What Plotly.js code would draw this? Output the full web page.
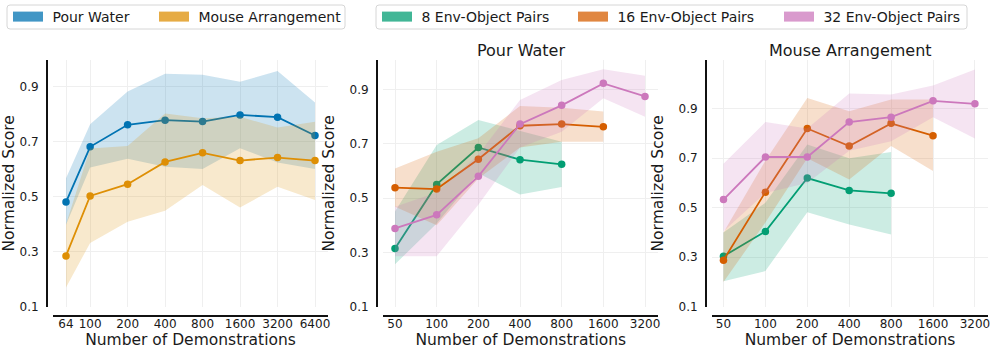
<!DOCTYPE html>
<html>
<head>
<meta charset="utf-8">
<script src="https://cdn.plot.ly/plotly-3.0.1.min.js"></script>
<style>
  html, body { margin: 0; padding: 0; background: #fff; }
  #plot { width: 996px; height: 353px; }
</style>
</head>
<body>
<div id="plot"></div>
<script>
// ---- data ----
let demosLeft = [64, 100, 200, 400, 800, 1600, 3200, 6400];
let demosPairs = [50, 100, 200, 400, 800, 1600, 3200];

// left panel: task comparison
let pourMean  = [0.481, 0.682, 0.762, 0.779, 0.774, 0.798, 0.790, 0.723];
let pourUpper = [0.568, 0.764, 0.883, 0.948, 0.944, 0.919, 0.958, 0.843];
let pourLower = [0.398, 0.607, 0.639, 0.609, 0.601, 0.677, 0.625, 0.601];

let mouseMean  = [0.285, 0.503, 0.546, 0.627, 0.660, 0.632, 0.643, 0.632];
let mouseUpper = [0.400, 0.676, 0.685, 0.803, 0.786, 0.791, 0.752, 0.773];
let mouseLower = [0.170, 0.332, 0.409, 0.449, 0.543, 0.461, 0.537, 0.488];

// middle panel: Pour Water, by number of env-object pairs
let pw8Mean   = [0.314, 0.550, 0.686, 0.641, 0.624];
let pw8Upper  = [0.450, 0.695, 0.787, 0.748, 0.707];
let pw8Lower  = [0.256, 0.406, 0.591, 0.513, 0.541];
let pw16Mean  = [0.538, 0.533, 0.643, 0.766, 0.772, 0.762];
let pw16Upper = [0.609, 0.670, 0.720, 0.839, 0.832, 0.818];
let pw16Lower = [0.468, 0.400, 0.572, 0.686, 0.707, 0.707];
let pw32Mean  = [0.388, 0.438, 0.580, 0.772, 0.841, 0.922, 0.874];
let pw32Upper = [0.468, 0.520, 0.660, 0.861, 0.934, 0.974, 0.950];
let pw32Lower = [0.286, 0.286, 0.475, 0.686, 0.744, 0.867, 0.799];

// right panel: Mouse Arrangement
let ma8Mean   = [0.304, 0.404, 0.620, 0.570, 0.558];
let ma8Upper  = [0.400, 0.520, 0.756, 0.700, 0.725];
let ma8Lower  = [0.203, 0.244, 0.482, 0.432, 0.392];
let ma16Mean  = [0.288, 0.563, 0.820, 0.749, 0.841, 0.791];
let ma16Upper = [0.400, 0.690, 0.943, 0.890, 0.937, 0.937];
let ma16Lower = [0.200, 0.440, 0.700, 0.614, 0.749, 0.648];
let ma32Mean  = [0.533, 0.705, 0.705, 0.846, 0.866, 0.932, 0.920];
let ma32Upper = [0.678, 0.846, 0.820, 0.962, 0.958, 0.994, 1.059];
let ma32Lower = [0.405, 0.560, 0.600, 0.730, 0.769, 0.866, 0.780];

let taskNames = ['Pour Water', 'Mouse Arrangement'];
let pairNames = ['8 Env-Object Pairs', '16 Env-Object Pairs', '32 Env-Object Pairs'];
let yTicks = [0.1, 0.3, 0.5, 0.7, 0.9];

// colorblind palette
let blue = [1, 115, 178];
let gold = [222, 143, 5];
let green = [2, 158, 115];
let rust = [213, 94, 0];
let pink = [204, 120, 188];

function rgba(c, a) {
    return 'rgba(' + c[0] + ',' + c[1] + ',' + c[2] + ',' + a + ')';
}

// pixel helpers for a 996x353 page
let W = 996, H = 353;
function px(v) { return v / W; }
function py(v) { return 1 - v / H; }

let txt = '#1a1a1a';
let font = 'DejaVu Sans';

let data = [];

function addSeries(xs, mean, upper, lower, col, ax) {
    let n = mean.length;
    let x = xs.slice(0, n);
    let bandX = x.concat(x.slice().reverse());
    let bandY = upper.concat(lower.slice().reverse());
    data.push({
        x: bandX, y: bandY, xaxis: 'x' + ax, yaxis: 'y' + ax,
        mode: 'lines', fill: 'toself', fillcolor: rgba(col, 0.2),
        line: {width: 0, color: rgba(col, 0)},
        showlegend: false, hoverinfo: 'skip'
    });
    data.push({
        x: x, y: mean, xaxis: 'x' + ax, yaxis: 'y' + ax,
        mode: 'lines+markers',
        line: {color: rgba(col, 1), width: 1.8},
        marker: {color: rgba(col, 1), size: 7.5},
        showlegend: false
    });
}

// one legend per entry so each swatch sits where the figure has it
let legendLayouts = {};
let legendCount = 0;
function addLegend(name, col, swatchX) {
    legendCount += 1;
    let key = legendCount === 1 ? 'legend' : 'legend' + legendCount;
    data.push({
        x: [null], y: [null], xaxis: 'x', yaxis: 'y',
        mode: 'lines', name: '\u00a0' + name, legend: key,
        line: {color: rgba(col, 0.75), width: 10},
        showlegend: true
    });
    legendLayouts[key] = {
        orientation: 'h', x: px(swatchX - 5), y: py(17), xanchor: 'left', yanchor: 'middle',
        borderwidth: 0, bgcolor: 'rgba(0,0,0,0)', font: {size: 14, color: txt}
    };
}

addSeries(demosLeft, pourMean, pourUpper, pourLower, blue, '');
addSeries(demosLeft, mouseMean, mouseUpper, mouseLower, gold, '');

addSeries(demosPairs, pw8Mean, pw8Upper, pw8Lower, green, '2');
addSeries(demosPairs, pw16Mean, pw16Upper, pw16Lower, rust, '2');
addSeries(demosPairs, pw32Mean, pw32Upper, pw32Lower, pink, '2');

addSeries(demosPairs, ma8Mean, ma8Upper, ma8Lower, green, '3');
addSeries(demosPairs, ma16Mean, ma16Upper, ma16Lower, rust, '3');
addSeries(demosPairs, ma32Mean, ma32Upper, ma32Lower, pink, '3');

addLegend(taskNames[0], blue, 13);
addLegend(taskNames[1], gold, 159);
addLegend(pairNames[0], green, 382);
addLegend(pairNames[1], rust, 578);
addLegend(pairNames[2], pink, 784);

function roundBox(x0, y0, x1, y1, r) {
    let X = px, Y = py;
    return 'M' + X(x0 + r) + ',' + Y(y0) + ' L' + X(x1 - r) + ',' + Y(y0) +
        ' Q' + X(x1) + ',' + Y(y0) + ' ' + X(x1) + ',' + Y(y0 + r) +
        ' L' + X(x1) + ',' + Y(y1 - r) +
        ' Q' + X(x1) + ',' + Y(y1) + ' ' + X(x1 - r) + ',' + Y(y1) +
        ' L' + X(x0 + r) + ',' + Y(y1) +
        ' Q' + X(x0) + ',' + Y(y1) + ' ' + X(x0) + ',' + Y(y1 - r) +
        ' L' + X(x0) + ',' + Y(y0 + r) +
        ' Q' + X(x0) + ',' + Y(y0) + ' ' + X(x0 + r) + ',' + Y(y0) + ' Z';
}

function xAx(dom, range, vals) {
    return {
        type: 'log', domain: dom, range: range, anchor: 'free', position: py(315),
        tickvals: vals, ticktext: vals.map(String), ticks: '',
        showline: true, linecolor: '#111', linewidth: 1.5,
        showgrid: true, gridcolor: '#efefef', gridwidth: 1, zeroline: false,
        tickfont: {size: 12, color: txt}, ticklabelstandoff: -3,
        title: {text: 'Number of Demonstrations', font: {size: 15.5, color: txt}, standoff: 2},
        fixedrange: true
    };
}

function yAx(range, pos) {
    return {
        domain: [py(306.7), py(60)], range: range, anchor: 'free', position: pos,
        tickvals: yTicks, ticktext: yTicks.map(function (v) { return v.toFixed(1); }), ticks: '',
        showline: true, linecolor: '#111', linewidth: 1.5,
        showgrid: true, gridcolor: '#efefef', gridwidth: 1, zeroline: false,
        tickfont: {size: 12, color: txt}, ticklabelstandoff: 5,
        title: {text: 'Normalized Score', font: {size: 15.5, color: txt}},
        fixedrange: true
    };
}

let layout = {
    width: W, height: H,
    margin: {l: 0, r: 0, t: 0, b: 0},
    paper_bgcolor: '#fff', plot_bgcolor: 'rgba(0,0,0,0)',
    font: {family: font, color: txt},
    xaxis:  xAx([px(53), px(328)], [1.7018, 3.9106], demosLeft),
    yaxis:  yAx([0.1, 0.998], px(46)),
    xaxis2: xAx([px(383.3), px(658.3)], [1.6144, 3.6012], demosPairs),
    yaxis2: yAx([0.1, 1.008], px(376)),
    xaxis3: xAx([px(711.7), px(988.3)], [1.6144, 3.6012], demosPairs),
    yaxis3: yAx([0.1, 1.097], px(705)),
    shapes: [
        {type: 'path', xref: 'paper', yref: 'paper', path: roundBox(7, 5, 345, 29, 3),
         line: {color: '#d6d6d6', width: 1}, fillcolor: 'rgba(255,255,255,0)', layer: 'below'},
        {type: 'path', xref: 'paper', yref: 'paper', path: roundBox(376, 5, 967, 29, 3),
         line: {color: '#d6d6d6', width: 1}, fillcolor: 'rgba(255,255,255,0)', layer: 'below'}
    ],
    annotations: [
        {text: 'Pour Water', xref: 'paper', yref: 'paper', x: px(520.8), y: py(50),
         showarrow: false, font: {size: 16, color: txt}, xanchor: 'center', yanchor: 'middle'},
        {text: 'Mouse Arrangement', xref: 'paper', yref: 'paper', x: px(850), y: py(50),
         showarrow: false, font: {size: 16, color: txt}, xanchor: 'center', yanchor: 'middle'}
    ],
    showlegend: true
};
Object.assign(layout, legendLayouts);

Plotly.newPlot('plot', data, layout, {staticPlot: true, displayModeBar: false});
</script>
</body>
</html>
